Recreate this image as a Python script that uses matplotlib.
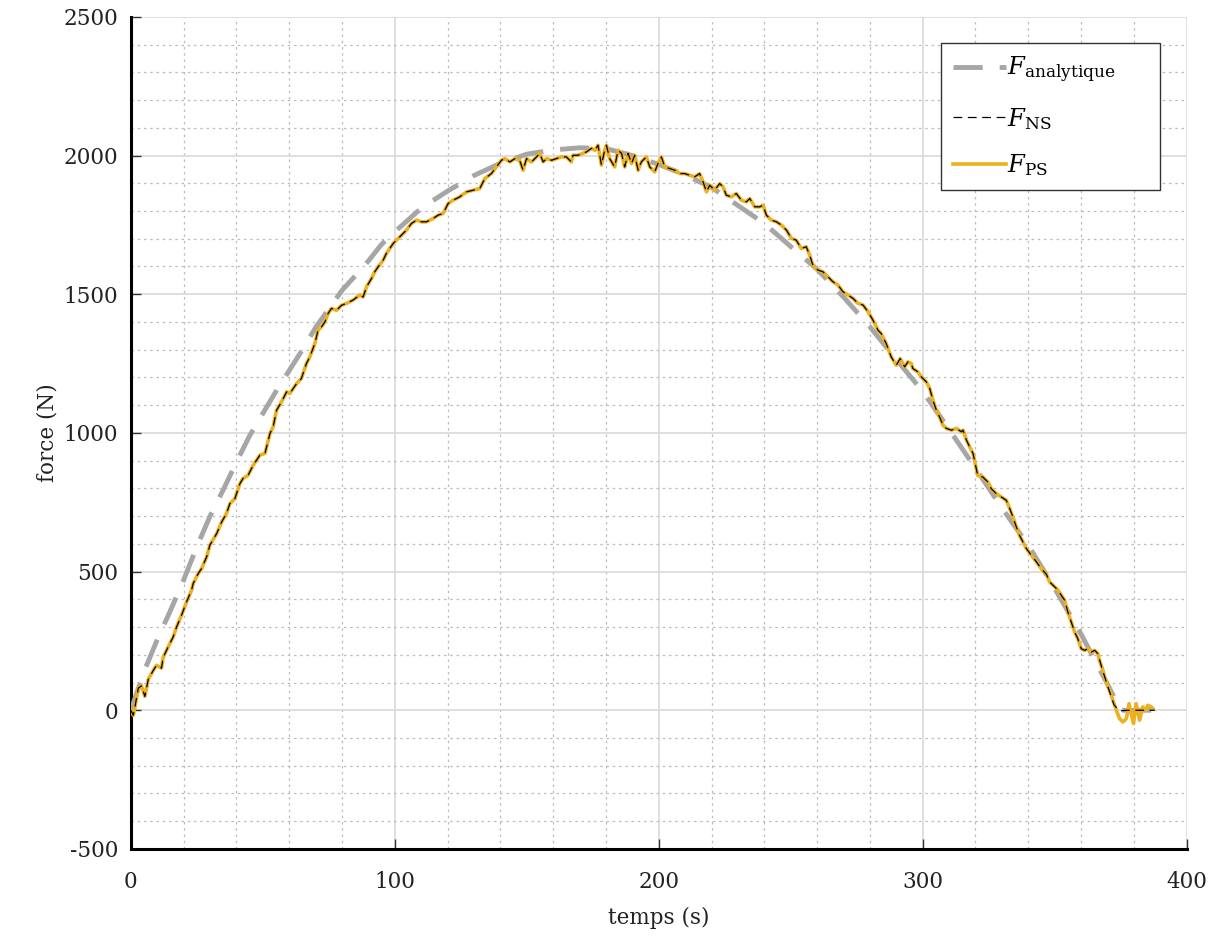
import matplotlib
matplotlib.use("Agg")
import matplotlib.pyplot as plt
from matplotlib.ticker import MultipleLocator

plt.rcParams["font.family"] = ["DejaVu Serif"]
plt.rcParams["mathtext.fontset"] = "dejavuserif"
plt.rcParams["axes.unicode_minus"] = False

# ---- analytic force ----
t_ana = [0, 5, 10, 15, 20, 25, 30, 35, 40, 45, 50, 55, 60, 65, 70, 75, 80, 85,
         90, 95, 100, 110, 120, 130, 140, 150, 160, 170, 180, 190, 200, 210,
         220, 230, 240, 250, 260, 270, 280, 290, 300, 310, 320, 330, 340, 350,
         360, 370, 375, 380, 388]
f_ana = [0, 140, 255, 360, 470, 590, 700, 795, 895, 990, 1070, 1150, 1225,
         1300, 1380, 1447, 1514, 1566, 1620, 1680, 1725, 1810, 1872, 1928, 1972,
         2005, 2020, 2028, 2025, 2000, 1968, 1930, 1885, 1820, 1755, 1672, 1590,
         1490, 1383, 1265, 1150, 1013, 873, 730, 595, 440, 275, 95, 0, 0, 0]

# ---- measured force F_PS ----
t_ps = [0.0, 0.9, 1.5, 2.8, 4.0, 5.3, 6.6, 8.5, 9.7, 11.6, 12.2, 14.1, 16.0,
        17.3, 19.2, 21.1, 23.0, 23.6, 25.5, 26.8, 28.7, 29.9, 32.5, 34.4, 36.2,
        37.5, 39.4, 41.3, 42.5, 44.4, 46.3, 48.9, 50.8, 52.7, 53.9, 55.2, 57.1,
        59.0, 60.2, 62.8, 64.6, 66.5, 67.8, 69.7, 70.9, 72.2, 73.5, 74.7, 76.0,
        77.9, 79.8, 81.7, 84.2, 86.7, 88.0, 89.3, 91.2, 92.4, 93.7, 95.6, 96.8,
        98.1, 99.4, 100.6, 101.9, 104.4, 106.3, 108.2, 110.1, 112.0, 114.5,
        116.4, 118.3, 120.2, 122.1, 124.6, 127.2, 129.7, 132.2, 134.1, 136.6,
        138.5, 140.4, 141.7, 143.6, 145.5, 147.3, 148.6, 149.9, 151.8, 153.7,
        154.9, 156.2, 157.5, 159.4, 161.3, 163.1, 165.0, 166.9, 167.5, 169.4,
        171.3, 172.6, 174.5, 175.8, 177.0, 178.3, 179.5, 180.2, 181.4, 183.3,
        184.6, 185.9, 187.1, 188.4, 189.7, 190.9, 192.2, 193.4, 195.3, 196.6,
        198.5, 199.7, 201.0, 202.3, 204.2, 206.1, 208.0, 209.8, 211.7, 213.6,
        215.5, 216.8, 218.1, 219.3, 221.2, 223.1, 224.4, 225.6, 227.5, 229.4,
        231.3, 233.2, 234.5, 236.4, 238.3, 239.5, 240.8, 242.7, 244.6, 246.5,
        248.4, 250.3, 252.1, 254.0, 255.9, 257.2, 258.4, 260.3, 262.2, 264.1,
        266.0, 267.9, 269.8, 271.7, 273.6, 275.5, 277.4, 279.3, 281.2, 283.1,
        284.3, 286.2, 288.1, 290.0, 291.5, 293.2, 294.4, 295.7, 296.3, 298.2,
        299.5, 301.4, 302.7, 303.9, 305.2, 306.4, 307.7, 309.0, 310.9, 312.8,
        314.7, 315.3, 316.6, 317.8, 319.1, 320.3, 320.9, 322.8, 324.7, 326.0,
        327.9, 329.8, 331.7, 333.0, 334.2, 335.5, 336.7, 338.0, 339.3, 341.2,
        343.1, 345.0, 346.9, 348.1, 350.0, 351.3, 352.5, 353.8, 355.0, 356.3,
        357.6, 358.8, 360.1, 361.4, 362.6, 363.9, 365.2, 366.4, 367.0, 368.3,
        369.6, 370.8, 372.1, 373.4, 374.6, 375.9, 377.2, 378.2, 379.0, 379.9,
        380.9, 382.2, 383.4, 384.7, 385.3, 386.6, 387.2]
f_ps = [0, -18, 10, 80, 88, 50, 112, 144, 162, 152, 190, 228, 264,
        300, 343, 391, 433, 457, 493, 511, 553, 595, 637, 679, 709,
        745, 763, 817, 836, 847, 883, 920, 926, 998, 1022, 1082, 1112,
        1148, 1142, 1178, 1196, 1250, 1274, 1322, 1370, 1382, 1400, 1430, 1449,
        1442, 1460, 1467, 1479, 1497, 1490, 1527, 1557, 1581, 1599, 1623, 1647,
        1665, 1683, 1695, 1707, 1731, 1755, 1767, 1761, 1761, 1773,
        1785, 1791, 1827, 1839, 1851, 1869, 1875, 1881, 1917, 1935,
        1959, 1983, 1989, 1977, 1989, 1983, 1947, 1989, 1977, 1995,
        2008, 1977, 1989, 1983, 1989, 1995, 1995, 1977, 2001, 2001,
        2008, 2013, 2026, 2019, 2037, 1965, 2019, 2037, 1989, 1959,
        2019, 2008, 1959, 2008, 1971, 2001, 1947, 1977, 1995, 1959,
        1941, 1971, 1995, 1959, 1953, 1947, 1935, 1935, 1929, 1923,
        1935, 1905, 1869, 1893, 1875, 1899, 1887, 1857, 1851, 1863,
        1839, 1833, 1845, 1815, 1815, 1821, 1785, 1767, 1761, 1749,
        1731, 1701, 1695, 1665, 1671, 1641, 1605, 1587, 1581, 1563,
        1545, 1533, 1509, 1497, 1485, 1467, 1461, 1437, 1406, 1370,
        1358, 1322, 1274, 1244, 1268, 1238, 1256, 1250, 1232, 1220,
        1202, 1184, 1160, 1118, 1082, 1058, 1028, 1016, 1010, 1016,
        1004, 1010, 974, 950, 926, 872, 847, 841, 823, 799,
        781, 769, 757, 727, 697, 661, 631, 607, 583, 559,
        535, 510, 490, 463, 445, 433, 415, 397, 355, 318,
        282, 258, 222, 216, 222, 210, 216, 204, 180, 144,
        102, 72, 36, 0, -30, -42, -30, 24, -12, -48,
        24, -36, 12, 0, 18, 12, 6]

# ---- F_NS: follows F_PS, smooth at the end ----
cut = t_ps.index(366.4) + 1
t_ns = t_ps[:cut] + [368.0, 370.0, 372.5, 374.5, 378.0, 388.0]
f_ns = f_ps[:cut] + [150, 90, 20, -2, 0, 0]

fig = plt.figure(figsize=(12.12, 9.36), dpi=100)
ax = fig.add_axes([0.108, 0.093, 0.871, 0.889])

ax.plot(t_ana, f_ana, color="#a6a6a6", lw=3.5, dashes=(6, 3.5),
        label=r"$F_{\mathrm{analytique}}$", zorder=3)
ax.plot(t_ns, f_ns, color="black", lw=0.9, dashes=(7, 4.5),
        label=r"$F_{\mathrm{NS}}$", zorder=5)
ax.plot(t_ps, f_ps, color="#EDB120", lw=2.6,
        label=r"$F_{\mathrm{PS}}$", zorder=4)

ax.set_xlim(0, 400)
ax.set_ylim(-500, 2500)
ax.xaxis.set_major_locator(MultipleLocator(100))
ax.xaxis.set_minor_locator(MultipleLocator(20))
ax.yaxis.set_major_locator(MultipleLocator(500))
ax.yaxis.set_minor_locator(MultipleLocator(100))

ax.grid(which="major", color="#dcdcdc", lw=1.3, ls="-")
ax.grid(which="minor", color="#bdbdbd", lw=0.9, ls=(0, (2, 3)))
ax.set_axisbelow(True)

for s in ["top", "right"]:
    ax.spines[s].set_visible(False)
for s in ["left", "bottom"]:
    ax.spines[s].set_linewidth(2.2)

ax.tick_params(which="major", direction="in", length=7, width=1,
               color="#333333", labelsize=15.5, labelcolor="#222222")
ax.tick_params(axis="x", pad=16)
ax.tick_params(axis="y", pad=9)
ax.tick_params(which="minor", length=0)

ax.set_xlabel("temps (s)", fontsize=15.5, color="#222222", labelpad=10)
ax.set_ylabel("force (N)", fontsize=15.5, color="#222222", labelpad=4)

h, l = ax.get_legend_handles_labels()
leg = ax.legend(h, l, loc="upper left", bbox_to_anchor=(0.767, 0.79, 0.208, 0.179),
                mode="expand", fontsize=17.5, frameon=True, fancybox=False,
                framealpha=1, edgecolor="#333333", handlelength=2.2,
                handletextpad=0.05, labelspacing=0.85, borderpad=0.5,
                borderaxespad=0)
leg.get_frame().set_linewidth(1.0)

fig.savefig("out.png", dpi=100)
